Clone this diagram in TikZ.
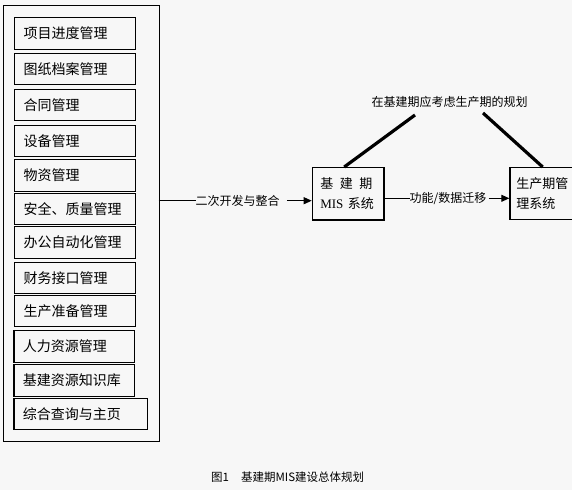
\documentclass[tikz,border=0pt]{standalone}
\usepackage{fontspec}
\setmainfont{Noto Sans CJK SC}
\newfontfamily\serifmis{Liberation Serif}
\usetikzlibrary{arrows.meta,calc}
\definecolor{bgc}{RGB}{247,247,247}
\tikzset{
  mbox/.style={draw, line width=1.2pt, anchor=north west, inner xsep=9pt, inner ysep=0pt,
    align=left, font=\fontsize{14}{16}\selectfont},
  sbox/.style={draw, line width=1.2pt, anchor=north west, inner xsep=8pt, inner ysep=0pt,
    align=left, font=\fontsize{13}{19.5}\selectfont},
  lbl/.style={inner sep=0pt, font=\fontsize{12}{14}\selectfont},
  conn/.style={line width=1pt},
  arr/.style={line width=1pt, -{Triangle[length=8pt,width=7pt]}},
  thick line/.style={line width=3.2pt}
}
\begin{document}
\begin{tikzpicture}[x=1pt,y=-1pt]
\useasboundingbox (0,0) rectangle (572,490);
\fill[bgc] (0,0) rectangle (572,490);
% outer frame
\node[draw, line width=1.2pt, anchor=north west, minimum width=155.5pt, minimum height=436pt, inner sep=0pt] (outer) at (3,5) {};
% module boxes
\node[mbox, text width=102.7pt, minimum height=32pt] (b1) at (14,17) {项目进度管理};
\node[mbox, text width=102.7pt, minimum height=31pt] (b2) at (14,53) {图纸档案管理};
\node[mbox, text width=102.7pt, minimum height=31pt] (b3) at (14,89) {合同管理};
\node[mbox, text width=102.7pt, minimum height=31pt] (b4) at (14,125) {设备管理};
\node[mbox, text width=102.7pt, minimum height=31.5pt] (b5) at (14,159) {物资管理};
\node[mbox, text width=102.7pt, minimum height=31pt] (b6) at (14,193) {安全、质量管理};
\node[mbox, text width=102.7pt, minimum height=32pt] (b7) at (14,226) {办公自动化管理};
\node[mbox, text width=102.7pt, minimum height=31pt] (b8) at (14,262) {财务接口管理};
\node[mbox, text width=102.7pt, minimum height=31pt] (b9) at (14,295) {生产准备管理};
\node[mbox, text width=102.4pt, minimum height=32pt] (b10) at (13.3,330) {人力资源管理};
\node[mbox, text width=102.4pt, minimum height=32pt] (b11) at (13.3,364) {基建资源知识库};
\node[mbox, text width=115.4pt, minimum height=31pt] (b12) at (13.3,398) {综合查询与主页};
% MIS box
\node[sbox, text width=55.6pt, minimum height=52.3pt] (mis) at (311.7,167) {基\hspace{6.5pt}建\hspace{6.5pt}期\\{\serifmis MIS} 系统};
% production box (runs past the right edge)
\node[sbox, inner xsep=6.5pt, text width=77pt, minimum height=52pt] (prod) at (509.3,167) {生产期管\\理系统};
% labels
\node[lbl, anchor=west] (l1) at (195.5,200.7) {二次开发与整合};
\node[lbl, anchor=west] (l2) at (409.5,198.3) {功能/数据迁移};
\node[lbl] (top) at (449.5,102) {在基建期应考虑生产期的规划};
% connectors
\coordinate (a0) at (158.5,200.7);
\draw[conn] (a0) -- (l1.west);
\draw[arr] ([xshift=7pt]l1.east) -- (mis.west |- l1);
\draw[conn] (mis.east |- l2) -- (l2.west);
\draw[arr] ([xshift=2pt]l2.east) -- (prod.west |- l2);
% planning lines
\coordinate (t1) at (415,115);
\coordinate (t2) at (483,113);
\draw[thick line] ($(mis.north west)+(32.5,0)$) -- (t1);
\draw[thick line] (t2) -- ($(prod.north west)+(33.4,0)$);
% caption
\node[lbl, font=\fontsize{11.5}{14}\selectfont, anchor=west] (cap) at (211,477) {图1\hspace{12pt}基建期MIS建设总体规划};
\end{tikzpicture}
\end{document}
